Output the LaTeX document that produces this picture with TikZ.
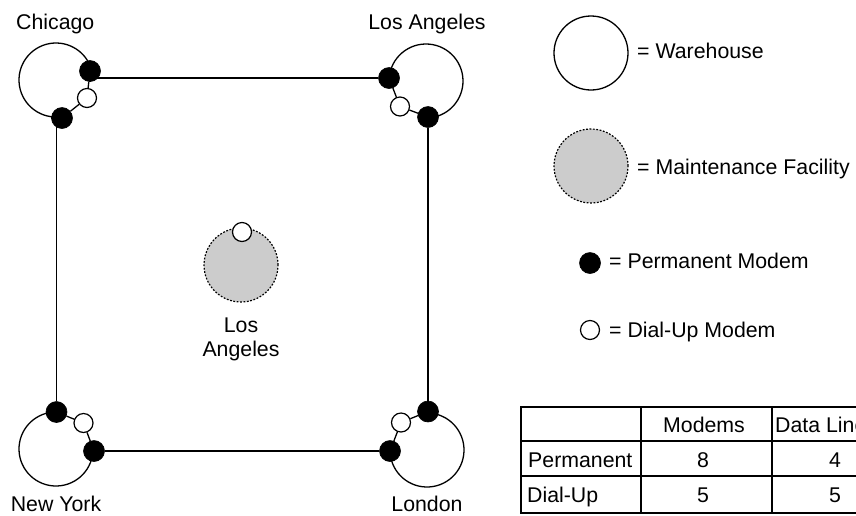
\documentclass[tikz,border=0pt]{standalone}
\usepackage{fontspec}
\setmainfont{Liberation Sans}
\begin{document}
\begin{tikzpicture}[x=1pt,y=-1pt,
  lbl/.style={font=\fontsize{21.3}{25}\selectfont, inner sep=0pt},
  whline/.style={line width=1.3pt},
  warehouse/.style={circle, draw, line width=1.3pt, minimum size=74pt, inner sep=0pt},
  facility/.style={circle, draw, fill=black!20, dash pattern=on 1.8pt off 1.6pt, line width=1.2pt, minimum size=74pt, inner sep=0pt},
  perm/.style={circle, fill=black, draw, line width=0.6pt, minimum size=21pt, inner sep=0pt},
  dial/.style={circle, fill=white, draw, line width=1.2pt, minimum size=19pt, inner sep=0pt},
  link/.style={line width=1.3pt},
  tablerule/.style={line width=1.2pt},
]
\useasboundingbox (0,0) rectangle (856,515);
\clip (0,0) rectangle (856,515);

% warehouse centres; each outline is the long arc between its two permanent modems
\coordinate (chi) at (56,80);
\coordinate (la)  at (426,81);
\coordinate (ny)  at (56,449);
\coordinate (lon) at (427,450);
\draw[whline] (chi) ++(81:37) arc[start angle=81, end angle=345, radius=37];
\draw[whline] (la) ++(184.6:37) arc[start angle=184.6, end angle=446.8, radius=37];
\draw[whline] (ny) ++(4:37) arc[start angle=4, end angle=271, radius=37];
\draw[whline] (lon) ++(-88:37) arc[start angle=-88, end angle=180, radius=37];

% maintenance facility
\node[facility] (mf) at (241,265) {};
\node[dial] (mfD) at (242,232) {};

% modems at each warehouse
\node[perm] (chiP1) at (90,71) {};
\node[dial] (chiD)  at (87,98) {};
\node[perm] (chiP2) at (62,118) {};

\node[perm] (laP1) at (389,78) {};
\node[dial] (laD)  at (400,106.5) {};
\node[perm] (laP2) at (428,117) {};

\node[perm] (nyP1) at (56.5,412) {};
\node[dial] (nyD)  at (83.5,423) {};
\node[perm] (nyP2) at (94,451) {};

\node[perm] (lonP1) at (428,411.5) {};
\node[dial] (lonD)  at (401,422.5) {};
\node[perm] (lonP2) at (390,451) {};

% modem chains
\draw[link] (chiP1) -- (chiD);
\draw[link] (chiD) -- (chiP2);
\draw[link] (laP1) -- (laD);
\draw[link] (laD) -- (laP2);
\draw[link] (nyP1) -- (nyD);
\draw[link] (nyD) -- (nyP2);
\draw[link] (lonP1) -- (lonD);
\draw[link] (lonD) -- (lonP2);

% permanent data lines
\draw[link] (chiP1) |- (laP1);
\draw[link] (nyP1) |- (chiP2);
\draw[link] (laP2) -- (lonP1);
\draw[link] (nyP2) -- (lonP2);

% site labels
\node[lbl, anchor=base west] (tChi) at (16,29) {Chicago};
\node[lbl, anchor=base] (tLA) at (427,29) {Los Angeles};
\node[lbl, anchor=base] (tNY) at (56,511) {New York};
\node[lbl, anchor=base] (tLon) at (427,511) {London};
\node[lbl, anchor=base] (tMf1) at (241,332) {Los};
\node[lbl, anchor=base] (tMf2) at (241,356) {Angeles};

% legend
\node[warehouse] (kW) at (591,53) {};
\node[lbl, anchor=base west] (kWt) at (637,58) {= Warehouse};
\node[facility] (kM) at (591,166) {};
\node[lbl, anchor=base west] (kMt) at (637,174) {= Maintenance Facility};
\node[perm] (kP) at (590,263) {};
\node[lbl, anchor=base west] (kPt) at (609,268) {= Permanent Modem};
\node[dial] (kD) at (590,330) {};
\node[lbl, anchor=base west] (kDt) at (609,337) {= Dial-Up Modem};

% summary table
\draw[tablerule] (521,407) rectangle (900,513);
\draw[tablerule] (521,441) -- (900,441);
\draw[tablerule] (521,476) -- (900,476);
\draw[tablerule] (641,407) -- (641,513);
\draw[tablerule] (772,407) -- (772,513);
\node[lbl, anchor=base] (h1) at (704,432) {Modems};
\node[lbl, anchor=base west] (h2) at (775,432) {Data Lines};
\node[lbl, anchor=base west] (r1) at (528,467) {Permanent};
\node[lbl, anchor=base] (r1a) at (703,467) {8};
\node[lbl, anchor=base] (r1b) at (835,467) {4};
\node[lbl, anchor=base west] (r2) at (527,502) {Dial-Up};
\node[lbl, anchor=base] (r2a) at (703,502) {5};
\node[lbl, anchor=base] (r2b) at (835,502) {5};
\end{tikzpicture}
\end{document}
